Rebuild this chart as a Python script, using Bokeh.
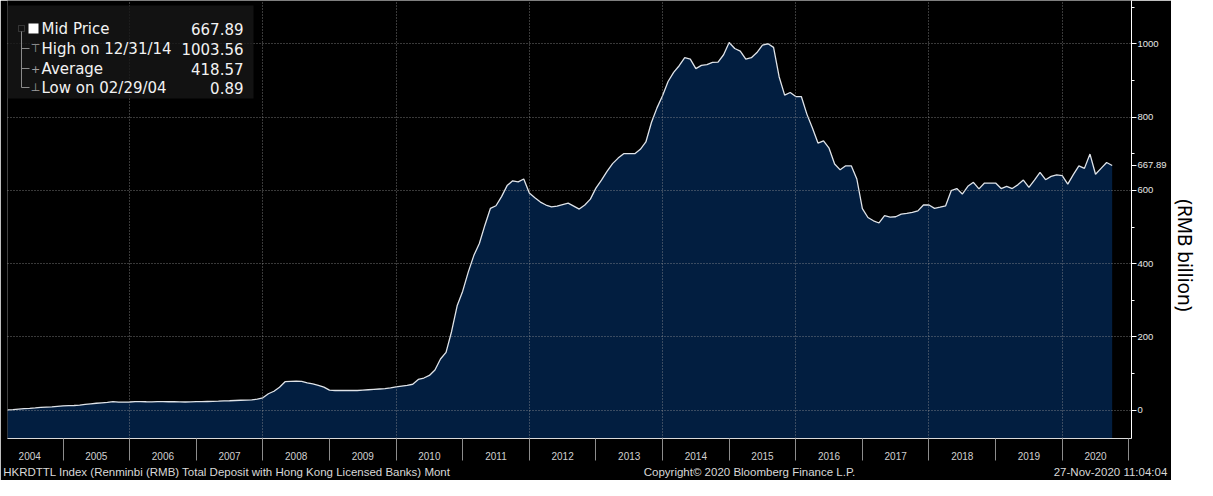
import math
import pandas as pd
from bokeh.plotting import figure
from bokeh.models import (Range1d, FixedTicker, SingleIntervalTicker, Label,
                          BoxAnnotation, ColumnDataSource, LinearAxis)
from bokeh.layouts import row
from bokeh.embed import file_html
from bokeh.resources import INLINE
from bokeh.core.properties import value

# HKRDTTL Index, month-end values (RMB billion), Feb 2004 .. Sep 2020
v2004 = [0.89, 2.0, 3.3, 4.6, 5.4, 6.5, 7.8, 8.8, 9.4, 10.8, 12.1]          # Feb-Dec
v2005 = [12.6, 13.0, 14.1, 16.0, 17.7, 19.2, 20.3, 21.3, 23.5, 22.4, 22.5, 22.6]
v2006 = [23.4, 23.7, 23.2, 23.0, 23.4, 23.5, 23.3, 23.4, 22.7, 22.6, 23.0, 23.4]
v2007 = [23.5, 24.0, 24.5, 25.0, 25.7, 26.0, 26.7, 27.3, 27.8, 28.5, 30.4, 34.0]
v2008 = [45, 52, 63, 78, 79, 79.5, 79, 75, 72, 68, 63, 55]
v2009 = [54, 54, 54, 54, 54, 55, 56, 57, 58, 59, 61, 64]
v2010 = [66, 68, 71, 84, 88, 95, 110, 140, 158, 215, 285, 325]
v2011 = [377, 422, 455, 505, 551, 558, 583, 613, 626, 623, 631, 593]
v2012 = [580, 568, 560, 555, 557, 561, 565, 557, 549, 560, 576, 606]
v2013 = [628, 652, 673, 688, 700, 700, 700, 712, 732, 785, 825, 858]
v2014 = [897, 922, 940, 962, 958, 932, 941, 943, 949, 950, 970, 1003.56]
v2015 = [987, 980, 958, 962, 976, 996, 1000, 990, 910, 860, 867, 856]
v2016 = [856, 808, 770, 729, 735, 715, 672, 656, 667, 667, 631, 550]
v2017 = [526, 517, 511, 531, 527, 528, 535, 537, 540, 544, 560, 560]
v2018 = [551, 554, 558, 599, 605, 590, 611, 622, 604, 620, 620, 620]
v2019 = [605, 611, 605, 615, 628, 608, 628, 649, 629, 638, 642, 640]
v2020 = [617, 643, 667, 660, 699, 644, 660, 676, 667.89]                    # Jan-Sep

first_month = "2004-02-29"
year_labels = [str(y) for y in range(2004, 2021)]
grid_years = [2006, 2008, 2010, 2012, 2014, 2016, 2018, 2020]
y_major = [0, 200, 400, 600, 800, 1000]
y_minor = [100, 300, 500, 700, 900, 1100]

legend_rows = [("Mid Price", "667.89"), ("High on 12/31/14", "1003.56"),
               ("Average", "418.57"), ("Low on 02/29/04", "0.89")]
last_value = "667.89"
footer_texts = ["HKRDTTL Index (Renminbi (RMB) Total Deposit with Hong Kong Licensed Banks)  Mont",
                "Copyright\u00a9 2020 Bloomberg Finance L.P.",
                "27-Nov-2020 11:04:04"]
unit_label = "(RMB billion)"

vals = (v2004 + v2005 + v2006 + v2007 + v2008 + v2009 + v2010 + v2011 + v2012
        + v2013 + v2014 + v2015 + v2016 + v2017 + v2018 + v2019 + v2020)
dates = pd.date_range(first_month, periods=len(vals), freq="ME")
t = [d.year + d.month / 12.0 for d in dates]

Y_LO, Y_HI = -77, 1118
X_LO, X_HI = t[0], 2021.04
LEFT, RIGHT, FH, BOTTOM, P2W = 7, 40, 440, 40, 26
FW = 1197 - P2W - LEFT - RIGHT
W_MAIN, H_MAIN = LEFT + FW + RIGHT, FH + BOTTOM

src = ColumnDataSource(dict(t=t, v=vals))

p = figure(width=W_MAIN, height=H_MAIN,
           x_range=Range1d(X_LO, X_HI), y_range=Range1d(Y_LO, Y_HI),
           y_axis_location="right", output_backend="svg", toolbar_location=None,
           min_border_left=LEFT, min_border_top=0, min_border_right=RIGHT,
           min_border_bottom=BOTTOM,
           background_fill_color="black", border_fill_color="black",
           outline_line_color=None)

p.varea(x="t", y1=Y_LO, y2="v", source=src, fill_color="#021e40")
p.line(x="t", y="v", source=src, line_color="#dfe3e8", line_width=1.3)

# x axis: labels at year middles, tick marks at year boundaries
mids = [int(y) + 0.5 for y in year_labels]
bounds = [int(y) + 1 for y in year_labels]
xa = p.xaxis[0]
xa.ticker = FixedTicker(ticks=mids, minor_ticks=bounds)
xa.major_label_overrides = {m: lab for m, lab in zip(mids, year_labels)}
xa.major_tick_out = 0
xa.major_tick_in = 0
xa.minor_tick_out = 22
xa.minor_tick_in = 0
xa.minor_tick_line_color = "#8c8c8c"
xa.axis_line_color = "#d9d9d9"
xa.major_label_standoff = -9
xa.major_label_text_font = "Liberation Sans"
xa.major_label_text_font_size = "10px"
xa.major_label_text_color = "#d0d0d0"

# footer line: a bare second axis below the year axis
px_per_year = FW / (X_HI - X_LO)
foot_px = [228, 749, 1110]          # text centres, pixels from the left edge
foot_pos = [X_LO + (px - LEFT) / px_per_year for px in foot_px]
fa = LinearAxis(ticker=FixedTicker(ticks=foot_pos),
                major_label_overrides={k: s for k, s in zip(foot_pos, footer_texts)})
fa.axis_line_color = None
fa.major_tick_line_color = None
fa.minor_tick_line_color = None
fa.major_tick_out = 0
fa.major_tick_in = 0
fa.major_label_standoff = 3
fa.major_label_text_font = "Liberation Sans"
fa.major_label_text_font_size = "11.5px"
fa.major_label_text_color = "#d8d8d8"
p.add_layout(fa, "below")

# right value axis, with the last value marked on it
ya = p.yaxis[0]
y_ticks = sorted(y_major + [vals[-1]])
ya.ticker = FixedTicker(ticks=y_ticks, minor_ticks=y_minor)
overrides = {v: str(v) for v in y_major}
overrides[vals[-1]] = last_value
ya.major_label_overrides = overrides
ya.axis_line_color = "white"
ya.major_tick_line_color = "white"
ya.minor_tick_line_color = "white"
ya.major_tick_out = 5
ya.major_tick_in = 0
ya.minor_tick_out = 3
ya.minor_tick_in = 0
ya.major_label_standoff = 1
ya.major_label_text_font = "Liberation Sans"
ya.major_label_text_font_size = "9.5px"
ya.major_label_text_color = "#e6e6e6"

p.xgrid.ticker = FixedTicker(ticks=grid_years)
p.ygrid.ticker = FixedTicker(ticks=y_major)
for g in (p.xgrid[0], p.ygrid[0]):
    g.grid_line_color = "#9a9a9a"
    g.grid_line_alpha = 0.75
    g.grid_line_dash = "1 2"
    g.grid_line_width = 1
    g.level = "guide"

# legend box (top-left)
def sbox(left, right, top, bottom, **kw):
    return BoxAnnotation(left=left, right=right, top=top, bottom=bottom,
                         left_units="screen", right_units="screen",
                         top_units="screen", bottom_units="screen", **kw)

p.add_layout(sbox(0, 246, FH - 7, FH - 100, fill_color="#161616", fill_alpha=0.82,
                  line_color=None))
row_y = [FH - 30, FH - 50, FH - 70, FH - 89]
for (name, val), yy in zip(legend_rows, row_y):
    p.add_layout(Label(x=34, y=yy, x_units="screen", y_units="screen", text=name,
                       text_font="DejaVu Sans", text_font_size="15px", text_color="#f2f2f2",
                       text_align="left", text_baseline="middle"))
    p.add_layout(Label(x=236, y=yy, x_units="screen", y_units="screen", text=val,
                       text_font="DejaVu Sans", text_font_size="15px", text_color="#f2f2f2",
                       text_align="right", text_baseline="middle"))
# white square marker
p.add_layout(sbox(21, 31, FH - 25, FH - 35, fill_color="white", fill_alpha=1,
                  line_color=None))
# tree lines
tree = "#8a8a8a"
p.add_layout(sbox(11, 17, FH - 27, FH - 33, fill_alpha=0, line_color=tree, line_width=1))
p.add_layout(sbox(13.5, 14.5, FH - 33, FH - 89, fill_color=tree, fill_alpha=1,
                  line_color=None))
for yy in row_y[1:]:
    p.add_layout(sbox(14, 22, yy + 0.5, yy - 0.5, fill_color=tree, fill_alpha=1,
                      line_color=None))
for sym, yy in zip(["\u22a4", "+", "\u22a5"], row_y[1:]):
    p.add_layout(Label(x=28, y=yy, x_units="screen", y_units="screen", text=sym,
                       text_font="DejaVu Sans", text_font_size="11px", text_color="#a0a0a0",
                       text_align="center", text_baseline="middle"))

# unit label on white strip (its frame lines up with the main frame's height)
p2 = figure(width=P2W, height=H_MAIN, x_range=Range1d(0, P2W), y_range=Range1d(0, FH),
            output_backend="svg", toolbar_location=None, min_border=0,
            x_axis_location=None, y_axis_location=None,
            background_fill_color="white", border_fill_color="white",
            outline_line_color=None)
p2.grid.visible = False
p2.text(x=[P2W / 2], y=[FH - 256], text=[unit_label], angle=-math.pi / 2,
        text_align="center", text_baseline="middle",
        text_font=value("Noto Sans"), text_font_size="19px", text_color="black")

layout = row(p, p2)
open("out.html", "w").write(file_html(layout, INLINE))
